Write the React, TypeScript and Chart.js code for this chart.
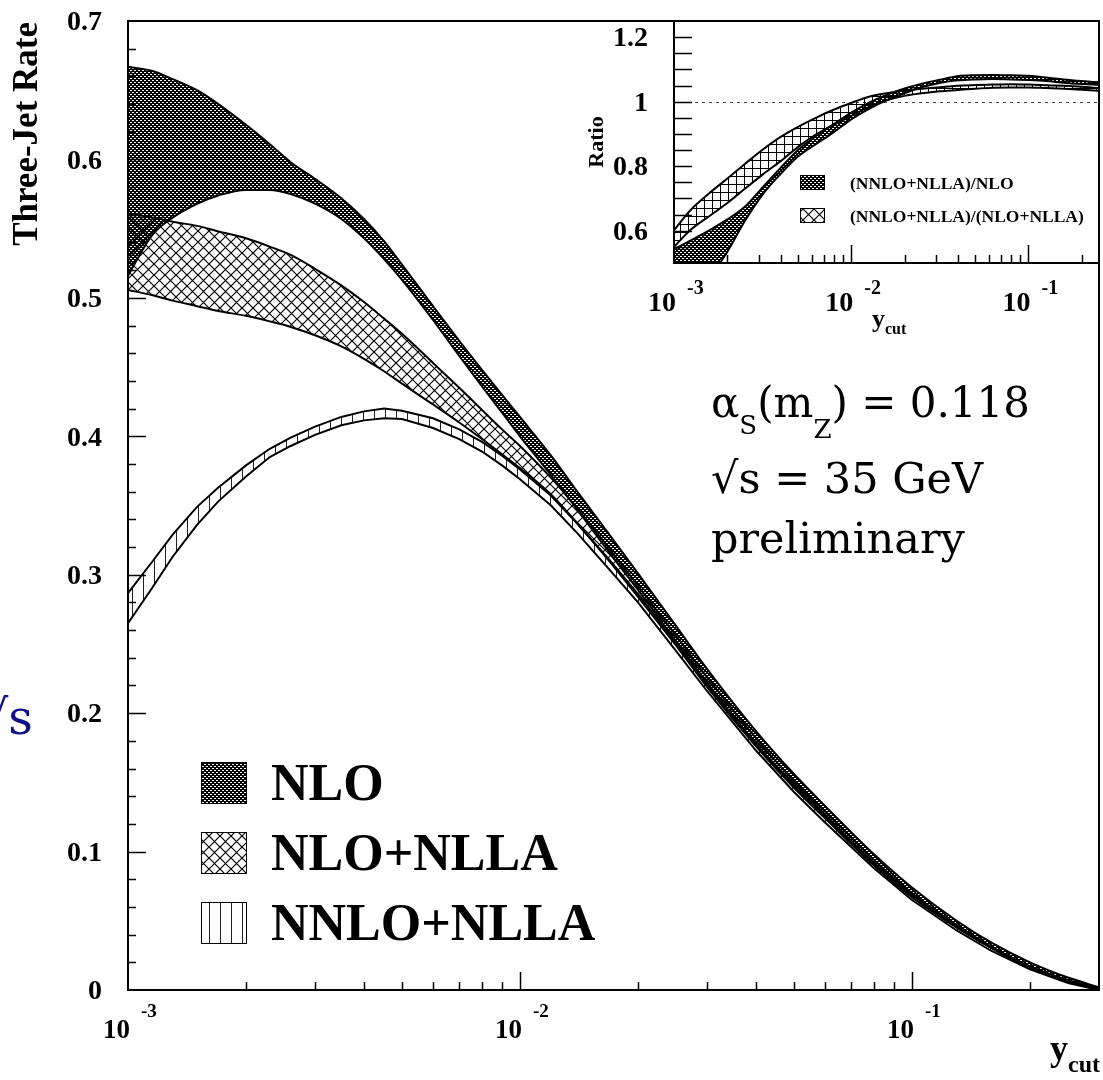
import React, { useEffect, useRef } from 'react';
import { Chart, registerables } from 'chart.js';

Chart.register(...registerables);

// ---------------- data ----------------
const ycut = [0.001, 0.00115, 0.0013, 0.0015, 0.0017, 0.002, 0.0023, 0.0026, 0.003, 0.0035, 0.004, 0.0045, 0.005, 0.006, 0.007, 0.008, 0.009, 0.01, 0.012, 0.014, 0.017, 0.02, 0.025, 0.03, 0.04, 0.05, 0.06, 0.08, 0.1, 0.13, 0.16, 0.2, 0.25, 0.3];

const nloUpper = [0.667, 0.664, 0.658, 0.65, 0.64, 0.625, 0.611, 0.598, 0.586, 0.572, 0.557, 0.541, 0.524, 0.494, 0.469, 0.448, 0.43, 0.414, 0.386, 0.36, 0.328, 0.301, 0.263, 0.232, 0.187, 0.156, 0.133, 0.098, 0.074, 0.05, 0.034, 0.02, 0.009, 0.002];
const nloLower = [0.516, 0.545, 0.558, 0.568, 0.574, 0.578, 0.578, 0.575, 0.568, 0.557, 0.543, 0.528, 0.513, 0.484, 0.458, 0.436, 0.417, 0.4, 0.372, 0.347, 0.315, 0.289, 0.252, 0.222, 0.178, 0.148, 0.126, 0.092, 0.069, 0.046, 0.031, 0.017, 0.007, 0.001];

const nllaUpper = [0.561, 0.558, 0.555, 0.552, 0.548, 0.543, 0.537, 0.531, 0.521, 0.509, 0.497, 0.485, 0.474, 0.453, 0.435, 0.419, 0.405, 0.393, 0.37, 0.348, 0.318, 0.292, 0.256, 0.226, 0.182, 0.151, 0.129, 0.094, 0.07, 0.047, 0.031, 0.017, 0.007, 0.001];
const nllaLower = [0.5057, 0.502, 0.498, 0.494, 0.4905, 0.487, 0.483, 0.479, 0.473, 0.465, 0.456, 0.447, 0.438, 0.423, 0.41, 0.398, 0.387, 0.377, 0.358, 0.337, 0.309, 0.284, 0.249, 0.219, 0.176, 0.146, 0.124, 0.09, 0.067, 0.045, 0.03, 0.016, 0.006, 0.0];

const nnloUpper = [0.2866, 0.309, 0.329, 0.349, 0.363, 0.379, 0.391, 0.399, 0.407, 0.414, 0.418, 0.42, 0.4185, 0.413, 0.405, 0.396, 0.386, 0.376, 0.357, 0.337, 0.31, 0.286, 0.251, 0.221, 0.177, 0.147, 0.125, 0.091, 0.068, 0.046, 0.03, 0.016, 0.006, 0.0005];
const nnloLower = [0.2649, 0.29, 0.313, 0.336, 0.353, 0.371, 0.385, 0.393, 0.401, 0.408, 0.4115, 0.413, 0.4125, 0.406, 0.398, 0.389, 0.379, 0.369, 0.35, 0.33, 0.303, 0.28, 0.245, 0.216, 0.173, 0.143, 0.121, 0.088, 0.065, 0.043, 0.028, 0.015, 0.005, 0.0];

const ratioYcut = [0.001, 0.00126, 0.00158, 0.002, 0.00251, 0.00316, 0.00398, 0.00501, 0.00631, 0.00794, 0.01, 0.0126, 0.0158, 0.02, 0.0251, 0.0316, 0.0398, 0.0501, 0.0631, 0.0794, 0.1, 0.126, 0.158, 0.2, 0.25];
const ratioNloUpper = [0.543, 0.572, 0.601, 0.635, 0.674, 0.734, 0.794, 0.85, 0.893, 0.93, 0.966, 0.997, 1.021, 1.041, 1.056, 1.068, 1.079, 1.082, 1.083, 1.082, 1.08, 1.075, 1.069, 1.064, 1.06];
const ratioNloLower = [0.35, 0.4, 0.455, 0.535, 0.63, 0.712, 0.775, 0.83, 0.868, 0.905, 0.945, 0.978, 1.004, 1.026, 1.045, 1.058, 1.066, 1.069, 1.07, 1.069, 1.067, 1.064, 1.059, 1.055, 1.052];
const ratioNllaUpper = [0.602, 0.668, 0.716, 0.762, 0.807, 0.851, 0.89, 0.922, 0.95, 0.975, 0.996, 1.015, 1.026, 1.035, 1.04, 1.045, 1.049, 1.052, 1.053, 1.054, 1.053, 1.051, 1.049, 1.046, 1.042];
const ratioNllaLower = [0.55, 0.606, 0.645, 0.686, 0.73, 0.774, 0.815, 0.86, 0.898, 0.928, 0.956, 0.984, 1.004, 1.018, 1.026, 1.032, 1.036, 1.04, 1.043, 1.044, 1.044, 1.042, 1.04, 1.037, 1.034];

const yTickValues = [0, 0.1, 0.2, 0.3, 0.4, 0.5, 0.6, 0.7];
const yTickLabels = ['0', '0.1', '0.2', '0.3', '0.4', '0.5', '0.6', '0.7'];
const xDecades = [0.001, 0.01, 0.1];
const xDecadeExponents = ['-3', '-2', '-1'];
const ratioTickValues = [0.6, 0.8, 1, 1.2];
const ratioTickLabels = ['0.6', '0.8', '1', '1.2'];
const legendLabels = ['NLO', 'NLO+NLLA', 'NNLO+NLLA'];
const ratioLegendLabels = ['(NNLO+NLLA)/NLO', '(NNLO+NLLA)/(NLO+NLLA)'];

// ---------------- styling ----------------
const W = 1103;
const H = 1080;
const SERIF = '"Liberation Serif", "Times New Roman", serif';
const DSERIF = '"DejaVu Serif", serif';

function makePattern(target: CanvasRenderingContext2D, kind: string): CanvasPattern {
  const c = document.createElement('canvas');
  const g = c.getContext('2d')!;
  if (kind === 'dots') {
    c.width = 4; c.height = 4;
    g.fillStyle = '#000';
    g.fillRect(0, 0, 4, 4);
    g.clearRect(0, 0, 2, 1);
    g.clearRect(2, 2, 2, 1);
  } else if (kind === 'diag') {
    c.width = 11; c.height = 11;
    g.strokeStyle = '#000';
    g.lineWidth = 1.2;
    g.beginPath();
    g.moveTo(-1, -1); g.lineTo(12, 12);
    g.moveTo(-1, 12); g.lineTo(12, -1);
    g.stroke();
  } else if (kind === 'grid') {
    c.width = 8; c.height = 8;
    g.fillStyle = '#000';
    g.fillRect(0, 0, 8, 1);
    g.fillRect(0, 0, 1, 8);
  } else {
    c.width = 11; c.height = 4;
    g.fillStyle = '#222';
    g.fillRect(0, 0, 1, 4);
  }
  return target.createPattern(c, 'repeat')!;
}

function band(xs: number[], lo: number[], hi: number[], pattern: CanvasPattern, lw: number, smooth: boolean) {
  const common: any = {
    borderColor: '#000',
    borderWidth: lw,
    pointRadius: 0,
  };
  if (smooth) common.cubicInterpolationMode = 'monotone';
  else common.tension = 0;
  return [
    { ...common, data: xs.map((x, i) => ({ x, y: lo[i] })), fill: false },
    { ...common, data: xs.map((x, i) => ({ x, y: hi[i] })), fill: '-1', backgroundColor: pattern },
  ];
}

function logTicks(min: number, max: number) {
  const out: { v: number; major: boolean }[] = [];
  for (const d of [0.001, 0.01, 0.1]) {
    for (let k = 1; k <= 9; k++) {
      const v = d * k;
      if (v <= min * 1.0001 || v >= max * 0.9999) continue;
      out.push({ v, major: k === 1 });
    }
  }
  return out;
}

export default function App() {
  const mainRef = useRef<HTMLCanvasElement>(null);
  const insetRef = useRef<HTMLCanvasElement>(null);

  useEffect(() => {
    const mctx = mainRef.current!.getContext('2d')!;
    const ictx = insetRef.current!.getContext('2d')!;

    const pDots = makePattern(mctx, 'dots');
    const pDiag = makePattern(mctx, 'diag');
    const pVert = makePattern(mctx, 'vert');
    const iDots = makePattern(ictx, 'dots');
    const iGrid = makePattern(ictx, 'grid');
    const iDiag = makePattern(ictx, 'diag');

    const mainDecor = {
      id: 'mainDecor',
      afterDraw(chart: any) {
        const { ctx, chartArea: a } = chart;
        const xs = chart.scales.x;
        const ys = chart.scales.y;
        ctx.save();
        ctx.strokeStyle = '#000';
        ctx.fillStyle = '#000';
        ctx.lineWidth = 1.5;
        ctx.beginPath();
        for (let i = 1; i < 35; i++) {
          const py = Math.round(ys.getPixelForValue(i * 0.02)) + 0.5;
          const len = i % 5 === 0 ? 18 : 8;
          ctx.moveTo(a.left, py);
          ctx.lineTo(a.left + len, py);
        }
        for (const t of logTicks(0.001, 0.3)) {
          const px = Math.round(xs.getPixelForValue(t.v)) + 0.5;
          ctx.moveTo(px, a.bottom);
          ctx.lineTo(px, a.bottom - (t.major ? 18 : 8));
        }
        ctx.stroke();
        ctx.lineWidth = 2;
        ctx.strokeRect(a.left, a.top, a.right - a.left, a.bottom - a.top);

        ctx.font = `bold 28px ${SERIF}`;
        ctx.textAlign = 'right';
        ctx.textBaseline = 'middle';
        yTickValues.forEach((v, i) => {
          ctx.fillText(yTickLabels[i], 102, ys.getPixelForValue(v) + 2);
        });
        ctx.textBaseline = 'alphabetic';
        xDecades.forEach((v, i) => {
          const px = xs.getPixelForValue(v);
          ctx.font = `bold 27px ${SERIF}`;
          ctx.textAlign = 'right';
          ctx.fillText('10', px + 2, 1038);
          ctx.font = `bold 19px ${SERIF}`;
          ctx.textAlign = 'left';
          ctx.fillText(xDecadeExponents[i], px + 13, 1017);
        });
        ctx.textAlign = 'right';
        ctx.font = `bold 24px ${SERIF}`;
        const wc = ctx.measureText('cut').width;
        ctx.fillText('cut', 1100, 1072);
        ctx.font = `bold 36px ${SERIF}`;
        ctx.fillText('y', 1100 - wc, 1060);
        ctx.save();
        ctx.translate(37, 22);
        ctx.rotate(-Math.PI / 2);
        ctx.font = `bold 35px ${SERIF}`;
        ctx.textAlign = 'right';
        ctx.fillText('Three-Jet Rate', 0, 0);
        ctx.restore();

        // legend
        const pats = [pDots, pDiag, pVert];
        const boxTops = [762, 832, 902];
        ctx.textAlign = 'left';
        ctx.font = `bold 52px ${SERIF}`;
        legendLabels.forEach((lab, i) => {
          const top = boxTops[i];
          ctx.fillStyle = '#fff';
          ctx.fillRect(201, top, 46, 42);
          ctx.fillStyle = pats[i];
          ctx.fillRect(201, top, 46, 42);
          ctx.lineWidth = 1;
          ctx.strokeRect(201.5, top + 0.5, 45, 41);
          ctx.fillStyle = '#000';
          ctx.fillText(lab, 271, top + 21 + 17);
        });

        // annotation text
        ctx.fillStyle = '#000';
        let x = 711;
        ctx.font = `42px ${DSERIF}`;
        ctx.fillText('\u03b1', x, 417);
        x += ctx.measureText('\u03b1').width;
        ctx.font = `26px ${DSERIF}`;
        ctx.fillText('S', x, 434);
        x += ctx.measureText('S').width;
        ctx.font = `42px ${DSERIF}`;
        ctx.fillText('(m', x, 417);
        x += ctx.measureText('(m').width;
        ctx.font = `26px ${DSERIF}`;
        ctx.fillText('Z', x, 438);
        x += ctx.measureText('Z').width;
        ctx.font = `42px ${DSERIF}`;
        ctx.fillText(') = 0.118', x, 417);
        ctx.font = `43px ${DSERIF}`;
        ctx.fillText('\u221as = 35 GeV', 711, 493);
        ctx.fillText('preliminary', 711, 553);

        ctx.fillStyle = '#10108a';
        ctx.font = `48px ${DSERIF}`;
        ctx.textAlign = 'right';
        ctx.fillText('\u221as', 33, 734);
        ctx.restore();
      },
    };

    const insetDecor = {
      id: 'insetDecor',
      beforeDraw(chart: any) {
        const { ctx, chartArea: a } = chart;
        ctx.save();
        ctx.fillStyle = '#fff';
        ctx.fillRect(a.left, a.top, a.right - a.left, a.bottom - a.top);
        ctx.restore();
      },
      beforeDatasetsDraw(chart: any) {
        const { ctx, chartArea: a } = chart;
        const py = Math.round(chart.scales.y.getPixelForValue(1)) + 0.5;
        ctx.save();
        ctx.strokeStyle = '#444';
        ctx.lineWidth = 1;
        ctx.setLineDash([3, 4]);
        ctx.beginPath();
        ctx.moveTo(a.left, py);
        ctx.lineTo(a.right, py);
        ctx.stroke();
        ctx.restore();
      },
      afterDraw(chart: any) {
        const { ctx, chartArea: a } = chart;
        const xs = chart.scales.x;
        const ys = chart.scales.y;
        ctx.save();
        ctx.strokeStyle = '#000';
        ctx.fillStyle = '#000';
        ctx.lineWidth = 1.5;
        ctx.beginPath();
        for (let i = 11; i <= 24; i++) {
          const py = Math.round(ys.getPixelForValue(i * 0.05)) + 0.5;
          ctx.moveTo(a.left, py);
          ctx.lineTo(a.left + 18, py);
        }
        for (const t of logTicks(0.001, 0.25)) {
          const px = Math.round(xs.getPixelForValue(t.v)) + 0.5;
          ctx.moveTo(px, a.bottom);
          ctx.lineTo(px, a.bottom - (t.major ? 18 : 8));
        }
        ctx.stroke();
        ctx.lineWidth = 2;
        ctx.strokeRect(a.left, a.top, a.right - a.left, a.bottom - a.top);

        ctx.font = `bold 28px ${SERIF}`;
        ctx.textAlign = 'right';
        ctx.textBaseline = 'middle';
        ratioTickValues.forEach((v, i) => {
          ctx.fillText(ratioTickLabels[i], 648, ys.getPixelForValue(v) + 2);
        });
        ctx.textBaseline = 'alphabetic';
        xDecades.forEach((v, i) => {
          const px = xs.getPixelForValue(v);
          ctx.font = `bold 28px ${SERIF}`;
          ctx.textAlign = 'right';
          ctx.fillText('10', px + 2, 311);
          ctx.font = `bold 20px ${SERIF}`;
          ctx.textAlign = 'left';
          ctx.fillText(xDecadeExponents[i], px + 13, 294);
        });
        ctx.textAlign = 'left';
        ctx.font = `bold 26px ${SERIF}`;
        ctx.fillText('y', 872, 327);
        const wy = ctx.measureText('y').width;
        ctx.font = `bold 16px ${SERIF}`;
        ctx.fillText('cut', 872 + wy, 334);
        ctx.save();
        ctx.translate(603, 142);
        ctx.rotate(-Math.PI / 2);
        ctx.font = `bold 22px ${SERIF}`;
        ctx.textAlign = 'center';
        ctx.fillText('Ratio', 0, 0);
        ctx.restore();

        const pats = [iDots, iDiag];
        const tops = [175, 208];
        ctx.font = `bold 17.5px ${SERIF}`;
        ctx.textAlign = 'left';
        ratioLegendLabels.forEach((lab, i) => {
          const top = tops[i];
          ctx.fillStyle = pats[i];
          ctx.fillRect(800, top, 25, 15);
          ctx.lineWidth = 1;
          ctx.strokeRect(800.5, top + 0.5, 24, 14);
          ctx.fillStyle = '#000';
          ctx.fillText(lab, 850, top + 13.5);
        });
        ctx.restore();
      },
    };

    const main = new Chart(mctx, {
      type: 'line',
      data: {
        datasets: [
          ...band(ycut, nloLower, nloUpper, pDots, 2, true),
          ...band(ycut, nllaLower, nllaUpper, pDiag, 2, true),
          ...band(ycut, nnloLower, nnloUpper, pVert, 2, false),
        ] as any,
      },
      options: {
        responsive: false,
        animation: false,
        devicePixelRatio: 1,
        layout: { padding: { left: 128, top: 21, right: 4, bottom: 90 } },
        scales: {
          x: { type: 'logarithmic', min: 0.001, max: 0.3, display: false },
          y: { type: 'linear', min: 0, max: 0.7, display: false },
        },
        plugins: { legend: { display: false }, tooltip: { enabled: false } },
      },
      plugins: [mainDecor],
    } as any);

    const inset = new Chart(ictx, {
      type: 'line',
      data: {
        datasets: [
          ...band(ratioYcut, ratioNloLower, ratioNloUpper, iDots, 2, true),
          ...band(ratioYcut, ratioNllaLower, ratioNllaUpper, iGrid, 2, true),
        ] as any,
      },
      options: {
        responsive: false,
        animation: false,
        devicePixelRatio: 1,
        layout: { padding: { left: 674, top: 21, right: 4, bottom: 817 } },
        scales: {
          x: { type: 'logarithmic', min: 0.001, max: 0.25, display: false },
          y: { type: 'linear', min: 0.5, max: 1.25, display: false },
        },
        plugins: { legend: { display: false }, tooltip: { enabled: false } },
      },
      plugins: [insetDecor],
    } as any);

    return () => {
      main.destroy();
      inset.destroy();
    };
  }, []);

  const cs: React.CSSProperties = { position: 'absolute', left: 0, top: 0, width: W, height: H };
  return (
    <div style={{ position: 'absolute', left: 0, top: 0, width: W, height: H, background: '#fff', overflow: 'hidden' }}>
      <canvas ref={mainRef} width={W} height={H} style={cs} />
      <canvas ref={insetRef} width={W} height={H} style={cs} />
    </div>
  );
}
